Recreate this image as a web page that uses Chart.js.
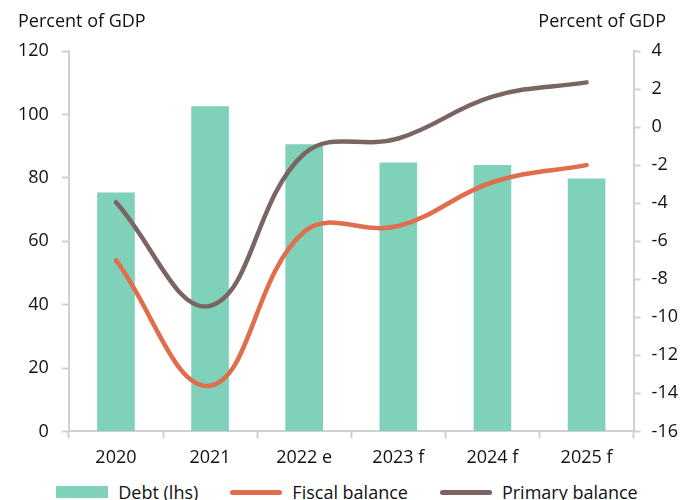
<!DOCTYPE html>
<html>
<head>
<meta charset="utf-8">
<script src="https://cdn.jsdelivr.net/npm/chart.js@4.4.0/dist/chart.umd.min.js"></script>
<style>
  html, body { margin: 0; padding: 0; background: #fff; overflow: hidden; }
  #wrap { position: relative; width: 694px; height: 478px; }
  #legend {
    width: 694px; height: 28px; display: flex; justify-content: center; align-items: center;
    font: 18px 'Open Sans', 'Noto Sans', sans-serif; color: #111; line-height: 28px;
    white-space: nowrap;
  }
  #legend .item { display: flex; align-items: center; margin: 0 16px; }
  #legend .mark { display: inline-block; width: 52px; margin-right: 10px; }
  #legend .box { height: 12px; }
  #legend .line { height: 5px; border-radius: 3px; }
</style>
</head>
<body>
<div id="wrap"><canvas id="debtChart"></canvas></div>
<div id="legend"></div>
<script>
const years = ["2020", "2021", "2022 e", "2023 f", "2024 f", "2025 f"];
const debt = [75.4, 102.6, 90.6, 84.8, 84.0, 79.8];
const fiscalBalance = [-7.0, -13.6, -5.5, -5.2, -2.9, -2.0];
const primaryBalance = [-3.95, -9.4, -1.4, -0.6, 1.6, 2.35];

const axisGray = "#d0d0d0";
const textColor = "#111111";
const fontFamily = "'Open Sans', 'Noto Sans', sans-serif";

// "Percent of GDP" above each y axis
const axisHeads = {
  id: "axisHeads",
  afterDraw(chart) {
    const ctx = chart.ctx;
    const yL = chart.scales.y, yR = chart.scales.y1;
    ctx.save();
    ctx.font = "18px " + fontFamily;
    ctx.fillStyle = textColor;
    ctx.textBaseline = "alphabetic";
    ctx.textAlign = "left";
    ctx.fillText("Percent of GDP", yL.left + 13, chart.chartArea.top - 24);
    ctx.textAlign = "right";
    ctx.fillText("Percent of GDP", yR.right - 23, chart.chartArea.top - 24);
    ctx.restore();
  }
};

const ctx = document.getElementById("debtChart").getContext("2d");
const chart = new Chart(ctx, {
  data: {
    labels: years,
    datasets: [
      {
        type: "bar",
        label: "Debt (lhs)",
        data: debt,
        yAxisID: "y",
        backgroundColor: "#7fd1b9",
        categoryPercentage: 1,
        barPercentage: 0.4,
        order: 3
      },
      {
        type: "line",
        label: "Fiscal balance",
        data: fiscalBalance,
        yAxisID: "y1",
        borderColor: "#e06d4b",
        backgroundColor: "#e06d4b",
        borderWidth: 4.5,
        borderCapStyle: "round",
        tension: 0.4,
        pointRadius: 0,
        order: 2
      },
      {
        type: "line",
        label: "Primary balance",
        data: primaryBalance,
        yAxisID: "y1",
        borderColor: "#7a6563",
        backgroundColor: "#7a6563",
        borderWidth: 4.5,
        borderCapStyle: "round",
        tension: 0.4,
        pointRadius: 0,
        order: 1
      }
    ]
  },
  options: {
    responsive: true,
    maintainAspectRatio: false,
    animation: false,
    layout: { padding: { top: 51, left: 5, right: 5, bottom: 0 } },
    plugins: {
      legend: { display: false },
      tooltip: { enabled: false }
    },
    scales: {
      x: {
        offset: true,
        grid: {
          offset: true,
          drawOnChartArea: false,
          drawTicks: true,
          tickLength: 7,
          tickColor: axisGray,
          tickWidth: 2
        },
        border: { color: axisGray, width: 2 },
        ticks: {
          font: { family: fontFamily, size: 18 },
          color: textColor,
          padding: 9,
          maxRotation: 0
        }
      },
      y: {
        position: "left",
        min: 0,
        max: 120,
        grid: {
          drawOnChartArea: false,
          tickLength: 7,
          tickColor: axisGray,
          tickWidth: 2
        },
        border: { color: axisGray, width: 2 },
        ticks: {
          stepSize: 20,
          font: { family: fontFamily, size: 18 },
          color: textColor,
          padding: 13
        }
      },
      y1: {
        position: "right",
        min: -16,
        max: 4,
        grid: {
          drawOnChartArea: false,
          tickLength: 7,
          tickColor: axisGray,
          tickWidth: 2
        },
        border: { color: axisGray, width: 2 },
        ticks: {
          stepSize: 2,
          font: { family: fontFamily, size: 18 },
          color: textColor,
          padding: 11
        }
      }
    }
  },
  plugins: [axisHeads]
});

// legend built from the chart's datasets
const legendEl = document.getElementById("legend");
chart.data.datasets.forEach(ds => {
  const item = document.createElement("span");
  item.className = "item";
  const mark = document.createElement("span");
  mark.className = "mark " + (ds.type === "bar" ? "box" : "line");
  mark.style.background = ds.type === "bar" ? ds.backgroundColor : ds.borderColor;
  item.appendChild(mark);
  item.appendChild(document.createTextNode(ds.label));
  legendEl.appendChild(item);
});
</script>
</body>
</html>
